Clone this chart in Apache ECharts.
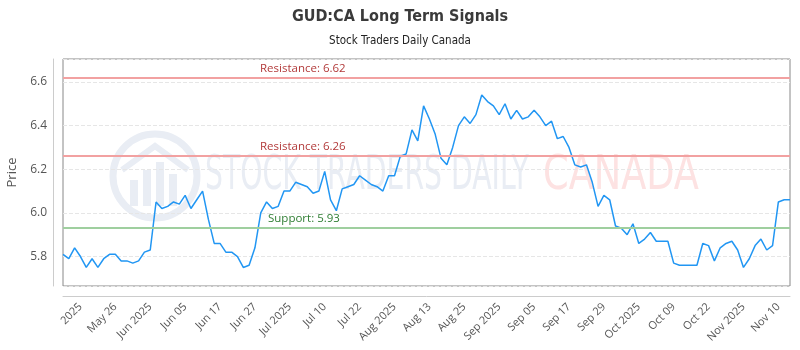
<!DOCTYPE html>
<html>
<head>
<meta charset="utf-8">
<script src="https://cdn.jsdelivr.net/npm/echarts@6/dist/echarts.min.js"></script>
<style>
  html, body { margin: 0; padding: 0; background: #fff; }
  #chart { width: 800px; height: 350px; }
</style>
</head>
<body>
<div id="chart"></div>
<script>
// x tick labels, one every 6 points starting at point 3
const tickLabels = ['2025', 'May 26', 'Jun 2025', 'Jun 05', 'Jun 17', 'Jun 27', 'Jul 2025', 'Jul 10', 'Jul 22',
    'Aug 2025', 'Aug 13', 'Aug 25', 'Sep 2025', 'Sep 05', 'Sep 17', 'Sep 29', 'Oct 2025', 'Oct 09', 'Oct 22',
    'Nov 2025', 'Nov 10'];

// closing prices
const prices = [
    5.81, 5.79, 5.84, 5.80, 5.75, 5.79, 5.75, 5.79, 5.81, 5.81,
    5.78, 5.78, 5.77, 5.78, 5.82, 5.83, 6.05, 6.02, 6.03, 6.05,
    6.04, 6.08, 6.02, 6.06, 6.10, 5.97, 5.86, 5.86, 5.82, 5.82,
    5.80, 5.75, 5.76, 5.84, 6.00, 6.05, 6.02, 6.03, 6.10, 6.10,
    6.14, 6.13, 6.12, 6.09, 6.10, 6.19, 6.06, 6.01, 6.11, 6.12,
    6.13, 6.17, 6.15, 6.13, 6.12, 6.10, 6.17, 6.17, 6.26, 6.27,
    6.38, 6.33, 6.49, 6.43, 6.36, 6.25, 6.22, 6.30, 6.40, 6.44,
    6.41, 6.45, 6.54, 6.51, 6.49, 6.45, 6.50, 6.43, 6.47, 6.43,
    6.44, 6.47, 6.44, 6.40, 6.42, 6.34, 6.35, 6.30, 6.22, 6.21,
    6.22, 6.14, 6.03, 6.08, 6.06, 5.94, 5.93, 5.90, 5.95, 5.86,
    5.88, 5.91, 5.87, 5.87, 5.87, 5.77, 5.76, 5.76, 5.76, 5.76,
    5.86, 5.85, 5.78, 5.84, 5.86, 5.87, 5.83, 5.75, 5.79, 5.85,
    5.88, 5.83, 5.85, 6.05, 6.06, 6.06
];

const resistanceLevels = [6.62, 6.26];
const supportLevels = [5.93];

const firstTick = 3;
const tickStep = 6;
const categories = prices.map((_, i) => {
    const k = i - firstTick;
    return (k >= 0 && k % tickStep === 0 && tickLabels[k / tickStep]) || '';
});

const chart = echarts.init(document.getElementById('chart'));

const levelLines = [
    ...resistanceLevels.map(v => ({
        yAxis: v,
        lineStyle: { color: '#f2a1a1', width: 2, type: 'solid' },
        label: { formatter: 'Resistance: ' + v.toFixed(2), color: '#b23a3a', distance: [197, 3] }
    })),
    ...supportLevels.map(v => ({
        yAxis: v,
        lineStyle: { color: '#9fcf9f', width: 2, type: 'solid' },
        label: { formatter: 'Support: ' + v.toFixed(2), color: '#2e7d32', distance: [205, 3] }
    }))
];

const wmColor = '#e9edf4';
const wmFont = '48px "DejaVu Sans Condensed", sans-serif';
const titleFont = '"DejaVu Sans Condensed", sans-serif';

const option = {
    animation: false,
    title: {
        text: 'GUD:CA Long Term Signals',
        subtext: 'Stock Traders Daily Canada',
        left: 'center',
        top: 4,
        itemGap: 10,
        textStyle: { fontFamily: titleFont, fontSize: 16, fontWeight: 'bold', color: '#3a3a3a' },
        subtextStyle: { fontFamily: titleFont, fontSize: 11.5, color: '#222' }
    },
    grid: {
        left: 63, right: 10, top: 59, bottom: 64,
        outerBoundsMode: 'none',
        show: true, borderColor: '#888', borderWidth: 1
    },
    graphic: [
        { type: 'circle', shape: { cx: 155, cy: 176, r: 42 }, style: { fill: 'none', stroke: wmColor, lineWidth: 7 }, z: 0 },
        { type: 'polyline', shape: { points: [[122, 170], [155, 146], [188, 170]] }, style: { fill: 'none', stroke: wmColor, lineWidth: 6 }, z: 0 },
        { type: 'rect', shape: { x: 130, y: 180, width: 8, height: 26 }, style: { fill: wmColor }, z: 0 },
        { type: 'rect', shape: { x: 143, y: 170, width: 8, height: 36 }, style: { fill: wmColor }, z: 0 },
        { type: 'rect', shape: { x: 156, y: 162, width: 8, height: 44 }, style: { fill: wmColor }, z: 0 },
        { type: 'rect', shape: { x: 169, y: 174, width: 8, height: 32 }, style: { fill: wmColor }, z: 0 },
        {
            type: 'text', x: 205, y: 153, scaleX: 0.655, z: 0,
            style: { x: 0, y: 0, text: 'STOCK TRADERS DAILY', fill: wmColor, font: wmFont, verticalAlign: 'top' }
        },
        {
            type: 'text', x: 543, y: 153, scaleX: 0.85, z: 0,
            style: { x: 0, y: 0, text: 'CANADA', fill: '#fde2e2', font: wmFont, verticalAlign: 'top' }
        }
    ],
    xAxis: {
        type: 'category',
        data: categories,
        boundaryGap: false,
        offset: 10,
        axisLine: { lineStyle: { color: '#ccc' } },
        axisTick: { show: false },
        axisLabel: {
            interval: (i, v) => v !== '',
            rotate: 45,
            margin: 9,
            fontFamily: 'Open Sans',
            fontSize: 11,
            color: '#555'
        },
        splitLine: { show: false }
    },
    yAxis: {
        type: 'value',
        min: 5.665,
        max: 6.705,
        offset: 10,
        name: 'Price',
        nameLocation: 'middle',
        nameGap: 26,
        nameTextStyle: { fontFamily: 'Open Sans', fontSize: 13, color: '#555' },
        axisLine: { show: true, lineStyle: { color: '#ccc' } },
        axisTick: { show: false },
        axisLabel: {
            margin: 6,
            fontFamily: 'Open Sans',
            fontSize: 12,
            color: '#555',
            showMinLabel: false,
            showMaxLabel: false,
            formatter: v => v.toFixed(1)
        },
        splitLine: { lineStyle: { color: '#e6e6e6', type: 'dashed' } }
    },
    series: [
        {
            type: 'line',
            data: prices,
            symbol: 'none',
            lineStyle: { color: '#2196f3', width: 1.5 },
            itemStyle: { color: '#2196f3' },
            z: 3,
            markLine: {
                silent: true,
                symbol: 'none',
                label: {
                    position: 'insideStartTop',
                    fontFamily: 'Open Sans',
                    fontSize: 11.5
                },
                data: levelLines
            }
        }
    ]
};

chart.setOption(option);
</script>
</body>
</html>
